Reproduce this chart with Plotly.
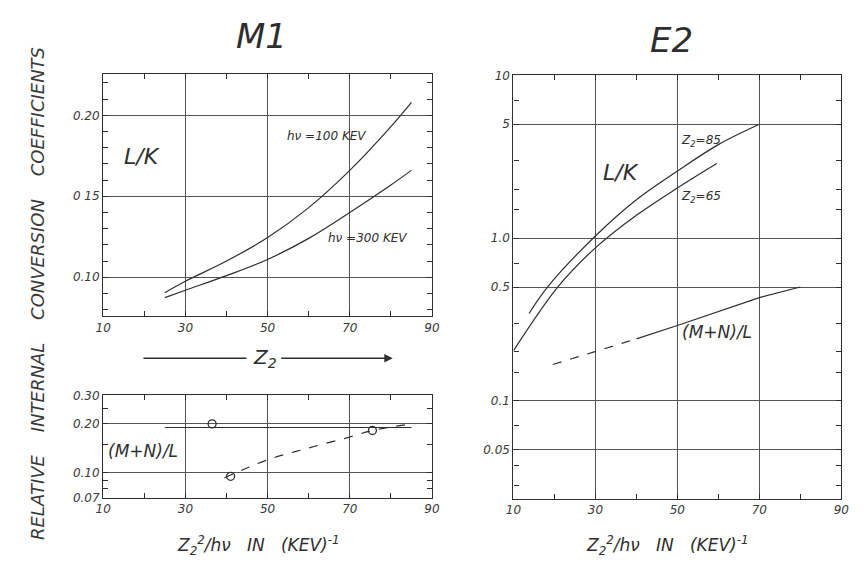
import plotly.graph_objects as go

# ---- M1: L/K ratio vs Z2 (linear scale) ----
m1_z = [25, 30, 40, 50, 60, 70, 80, 85]
m1_lk_100kev = [0.0905, 0.0975, 0.110, 0.1245, 0.143, 0.166, 0.193, 0.208]
m1_lk_300kev = [0.0874, 0.092, 0.101, 0.111, 0.124, 0.140, 0.157, 0.166]

# ---- M1: (M+N)/L (log scale) ----
m1_mnl_flat_x = [25, 85]
m1_mnl_flat_y = [0.19, 0.19]
m1_mnl_pts_x = [36.5, 41, 75.5]
m1_mnl_pts_y = [0.20, 0.095, 0.182]
m1_mnl_dash_x = [39.5, 50, 60, 70, 75.5, 85]
m1_mnl_dash_y = [0.093, 0.12, 0.142, 0.166, 0.182, 0.20]

# ---- E2: L/K and (M+N)/L vs Z2^2/hv (log scale) ----
e2_z85_x = [13.8, 18.3, 30, 40, 50, 60, 70]
e2_z85_y = [0.344, 0.50, 1.03, 1.72, 2.58, 3.75, 5.0]
e2_z65_x = [10, 20.8, 30, 40, 50, 59.6]
e2_z65_y = [0.203, 0.50, 0.87, 1.38, 2.03, 2.87]
e2_mnl_dash_x = [19.6, 30, 40]
e2_mnl_dash_y = [0.167, 0.20, 0.24]
e2_mnl_solid_x = [40, 50, 70, 80]
e2_mnl_solid_y = [0.24, 0.29, 0.43, 0.50]

x_ticks = [10, 30, 50, 70, 90]
x_ticktext = ["10", "30", "50", "70", "90"]
m1_lk_ticks = [0.10, 0.15, 0.20]
m1_lk_ticktext = ["0.10", "0 15", "0.20"]
m1_mnl_ticks = [0.07, 0.10, 0.20, 0.30]
m1_mnl_ticktext = ["0.07", "0.10", "0.20", "0.30"]
e2_ticks = [0.05, 0.1, 0.5, 1.0, 5, 10]
e2_ticktext = ["0.05", "0.1", "0.5", "1.0", "5", "10"]

INK = "#2e2e2e"
GRID = "#555555"
FONT = "DejaVu Sans"
W, H = 864, 576


def px_x(p):
    return p / W


def px_y(p):
    return 1 - p / H


fig = go.Figure()

line = dict(color=INK, width=1.2, shape="spline")
dash_line = dict(color=INK, width=1.2, dash="dash", shape="spline")

fig.add_trace(go.Scatter(x=m1_z, y=m1_lk_100kev, mode="lines", line=line, xaxis="x", yaxis="y"))
fig.add_trace(go.Scatter(x=m1_z, y=m1_lk_300kev, mode="lines", line=line, xaxis="x", yaxis="y"))

fig.add_trace(go.Scatter(x=m1_mnl_flat_x, y=m1_mnl_flat_y, mode="lines",
                         line=dict(color=INK, width=1.2), xaxis="x2", yaxis="y2"))
fig.add_trace(go.Scatter(x=m1_mnl_dash_x, y=m1_mnl_dash_y, mode="lines", line=dash_line,
                         xaxis="x2", yaxis="y2"))
fig.add_trace(go.Scatter(x=m1_mnl_pts_x, y=m1_mnl_pts_y, mode="markers",
                         marker=dict(symbol="circle-open", size=8, color=INK, line=dict(width=1.3)),
                         xaxis="x2", yaxis="y2"))

fig.add_trace(go.Scatter(x=e2_z85_x, y=e2_z85_y, mode="lines", line=line, xaxis="x3", yaxis="y3"))
fig.add_trace(go.Scatter(x=e2_z65_x, y=e2_z65_y, mode="lines", line=line, xaxis="x3", yaxis="y3"))
fig.add_trace(go.Scatter(x=e2_mnl_dash_x, y=e2_mnl_dash_y, mode="lines",
                         line=dict(color=INK, width=1.2, dash="dash"), xaxis="x3", yaxis="y3"))
fig.add_trace(go.Scatter(x=e2_mnl_solid_x, y=e2_mnl_solid_y, mode="lines",
                         line=dict(color=INK, width=1.2), xaxis="x3", yaxis="y3"))

tickfont = dict(family=FONT, size=12, color="#3a3a3a", style="italic")


def xaxis(domain, anchor):
    return dict(domain=domain, anchor=anchor, range=[10, 90], tickvals=x_ticks,
                ticktext=x_ticktext, showgrid=True, gridcolor=GRID, gridwidth=1,
                showline=True, linecolor=INK, linewidth=1.3, mirror="ticks",
                ticks="inside", ticklen=5, tickcolor=INK, zeroline=False,
                tickfont=tickfont,
                minor=dict(dtick=10, tick0=0, ticks="inside", ticklen=5, tickcolor=INK,
                           showgrid=False))


xd_left = [px_x(97), px_x(432)]
xd_right = [px_x(515), px_x(849)]

fig.update_layout(
    width=W, height=H, margin=dict(l=0, r=0, t=0, b=0),
    paper_bgcolor="white", plot_bgcolor="white", showlegend=False,
    font=dict(family=FONT, color=INK, style="italic"),
    xaxis=xaxis(xd_left, "y"),
    yaxis=dict(domain=[px_y(317), px_y(69)], anchor="x", range=[0.0759, 0.2253],
               tickvals=m1_lk_ticks, ticktext=m1_lk_ticktext, showgrid=True,
               gridcolor=GRID, gridwidth=1, showline=True, linecolor=INK, linewidth=1.3,
               mirror="ticks", ticks="inside", ticklen=5, tickcolor=INK, zeroline=False,
               tickfont=tickfont,
               minor=dict(dtick=0.01, tick0=0, ticks="inside", ticklen=5, tickcolor=INK,
                          showgrid=False)),
    xaxis2=xaxis(xd_left, "y2"),
    yaxis2=dict(domain=[px_y(503), px_y(398)], anchor="x2", type="log",
                range=[-1.1549, -0.5229], tickvals=m1_mnl_ticks, ticktext=m1_mnl_ticktext,
                showgrid=True, gridcolor=GRID, gridwidth=1, showline=True, linecolor=INK,
                linewidth=1.3, mirror="ticks", ticks="inside", ticklen=5, tickcolor=INK,
                zeroline=False, tickfont=tickfont,
                minor=dict(tickvals=[0.08, 0.09, 0.15, 0.25], ticks="inside", ticklen=5,
                           tickcolor=INK, showgrid=False)),
    xaxis3=xaxis(xd_right, "y3"),
    yaxis3=dict(domain=[px_y(504), px_y(70)], anchor="x3", type="log",
                range=[-1.602, 1.0], tickvals=e2_ticks, ticktext=e2_ticktext,
                showgrid=True, gridcolor=GRID, gridwidth=1, showline=True, linecolor=INK,
                linewidth=1.3, mirror="ticks", ticks="inside", ticklen=5, tickcolor=INK,
                zeroline=False, tickfont=tickfont,
                minor=dict(tickvals=[0.03, 0.04, 0.07, 0.15, 0.2, 0.3, 0.7, 1.5, 2, 3, 7],
                           ticks="inside", ticklen=5, tickcolor=INK, showgrid=False)),
)


def label(text, x, y, size, ref="paper"):
    fig.add_annotation(text=text, x=px_x(x), y=px_y(y), xref=ref, yref=ref,
                       showarrow=False, xanchor="center", yanchor="middle",
                       font=dict(family=FONT, size=size, color=INK, style="italic"))


# panel titles
label("M1", 258, 30, 34)
label("E2", 676, 34, 34)

# shared vertical title
gap = "\u00a0\u00a0\u00a0 "
fig.add_annotation(
    text=gap.join(["RELATIVE", "INTERNAL", "CONVERSION", "COEFFICIENTS"]),
    x=px_x(18), y=px_y(294), xref="paper", yref="paper", showarrow=False,
    textangle=-90, font=dict(family=FONT, size=18, color="#3a3a3a", style="italic"))

# curve labels
label("L/K", 137, 153, 22)
label("hν =100 KEV", 325, 132, 12)
label("hν =300 KEV", 366, 237, 12)
label("(M+N)/L", 138, 455, 17)
label("L/K", 625, 170, 22)
label("Z<sub>2</sub>=85", 706, 137, 12)
label("Z<sub>2</sub>=65", 706, 195, 12)
label("(M+N)/L", 722, 333, 17)

# Z2 direction arrow between the M1 panels
label("Z<sub>2</sub>", 262, 360, 20)
fig.add_shape(type="line", xref="paper", yref="paper", x0=px_x(138), x1=px_x(243),
              y0=px_y(360), y1=px_y(360), line=dict(color=INK, width=1.3))
fig.add_annotation(x=px_x(392), y=px_y(360), ax=-(392 - 279), ay=0,
                   xref="paper", yref="paper", axref="pixel", ayref="pixel",
                   text="", showarrow=True, arrowhead=2, arrowsize=1.3, arrowwidth=1.3,
                   arrowcolor=INK)

# x-axis titles
xt = "Z<sub>2</sub><sup>2</sup>/hν\u00a0\u00a0 IN\u00a0\u00a0 (KEV)<sup>-1</sup>"
label(xt, 255, 552, 17)
label(xt, 672, 552, 17)

fig.write_html("out.html")
